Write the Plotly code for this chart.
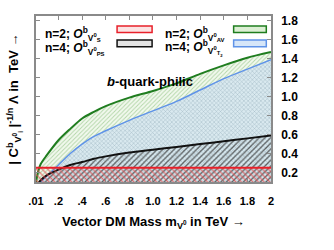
import plotly.graph_objects as go

# ---- data ----
mass_red = [0.01, 2.0]
lam_red = [0.25, 0.25]          # n=2; O_S

mass_black = [0.03, 0.05, 0.1, 0.2, 0.3, 0.4, 0.5, 0.6, 0.8, 1.0, 1.2, 1.4, 1.6, 1.8, 2.0]
lam_black = [0.09, 0.12, 0.17, 0.23, 0.28, 0.31, 0.345, 0.37, 0.41, 0.44, 0.47, 0.50, 0.53, 0.56, 0.59]

mass_green = [0.01, 0.03, 0.05, 0.1, 0.2, 0.3, 0.4, 0.5, 0.6, 0.8, 1.0, 1.2, 1.4, 1.6, 1.8, 2.0]
lam_green = [0.10, 0.22, 0.29, 0.38, 0.54, 0.66, 0.77, 0.84, 0.90, 0.99, 1.06, 1.14, 1.24, 1.33, 1.41, 1.47]

mass_blue = [0.05, 0.1, 0.2, 0.3, 0.4, 0.5, 0.6, 0.8, 1.0, 1.2, 1.4, 1.6, 1.8, 2.0]
lam_blue = [0.10, 0.16, 0.28, 0.40, 0.50, 0.58, 0.64, 0.75, 0.85, 0.95, 1.07, 1.19, 1.29, 1.39]

x_ticks = [0.01, 0.2, 0.4, 0.6, 0.8, 1.0, 1.2, 1.4, 1.6, 1.8, 2.0]
x_ticktext = [".01", ".2", ".4", ".6", ".8", "1.0", "1.2", "1.4", "1.6", "1.8", "2"]
y_ticks = [0.2, 0.4, 0.6, 0.8, 1.0, 1.2, 1.4, 1.6, 1.8]

FONT = "Liberation Sans, Arial, sans-serif"
GREEN = "#1f7d1f"
BLUE = "#5f93e8"
BLACK = "#111111"
RED = "#e8202a"
GRAY = "#8a8a8a"

fig = go.Figure()

fig.add_trace(go.Scatter(
    x=mass_green, y=lam_green, mode="lines", fill="tozeroy",
    line=dict(color=GREEN, width=2, shape="spline", smoothing=0.8),
    fillpattern=dict(shape="/", fgcolor="#b2d6a8", bgcolor="#f2f9ee",
                     size=3, solidity=0.3, fillmode="replace"),
    showlegend=False))

fig.add_trace(go.Scatter(
    x=mass_blue, y=lam_blue, mode="lines", fill="tozeroy",
    line=dict(color=BLUE, width=1.5, shape="spline", smoothing=0.8),
    fillpattern=dict(shape="x", fgcolor="#a2b9c6", bgcolor="#d9e9ef",
                     size=3, solidity=0.3, fillmode="replace"),
    showlegend=False))

fig.add_trace(go.Scatter(
    x=mass_black, y=lam_black, mode="lines", fill="tozeroy",
    line=dict(color=BLACK, width=2, shape="spline", smoothing=0.8),
    fillpattern=dict(shape="/", fgcolor="rgba(60,60,60,0.8)", bgcolor="rgba(0,0,0,0)",
                     size=4, solidity=0.3, fillmode="replace"),
    showlegend=False))

fig.add_trace(go.Scatter(
    x=mass_red, y=lam_red, mode="lines", fill="tozeroy",
    line=dict(color=RED, width=2),
    fillpattern=dict(shape="\\", fgcolor="rgba(230,80,80,0.75)", bgcolor="rgba(0,0,0,0)",
                     size=4, solidity=0.3, fillmode="replace"),
    showlegend=False))

# ---- legend (text + swatches) ----
legend_items = [
    ("n=2; <i>O</i><sup>b</sup><sub>V<sup>0</sup><sub>S</sub></sub>", 0.03, 0.905, 0.345, 0.494, "#fbe3e3", RED),
    ("n=4; <i>O</i><sup>b</sup><sub>V<sup>0</sup><sub>PS</sub></sub>", 0.03, 0.82, 0.345, 0.494, "#e4e4e4", BLACK),
    ("n=2; <i>O</i><sup>b</sup><sub>V<sup>0</sup><sub>AV</sub></sub>", 0.54, 0.905, 0.841, 0.98, "#dcefd4", GREEN),
    ("n=4; <i>O</i><sup>b</sup><sub>V<sup>0</sup><sub>T<sub>2</sub></sub></sub>", 0.54, 0.82, 0.841, 0.98, "#d6e6f8", BLUE),
]
for text, tx, ty, sx0, sx1, fc, lc in legend_items:
    fig.add_annotation(x=tx, y=ty - 0.014, xref="paper", yref="paper", text=text,
                       showarrow=False, xanchor="left", yanchor="middle",
                       font=dict(family=FONT, size=12, color="black", weight="bold"))
    fig.add_shape(type="rect", xref="paper", yref="paper",
                  x0=sx0, x1=sx1, y0=ty - 0.005, y1=ty + 0.035,
                  fillcolor=fc, line=dict(color=lc, width=1.5))

fig.add_annotation(x=0.295, y=0.605, xref="paper", yref="paper",
                   text="<i>b</i>-quark-philic", showarrow=False,
                   font=dict(family=FONT, size=13, color="black", weight="bold"))

fig.update_layout(
    width=334, height=250,
    margin=dict(l=36, r=63, t=16, b=68),
    paper_bgcolor="white", plot_bgcolor="white",
    font=dict(family=FONT, color="black"),
    xaxis=dict(
        range=[0.01, 2.0], tickvals=x_ticks, ticktext=x_ticktext,
        ticks="inside", ticklen=4, tickcolor=GRAY, showgrid=False, zeroline=False,
        showline=True, linecolor=GRAY, linewidth=1.5, mirror="ticks",
        tickfont=dict(family=FONT, size=11, weight="bold"),
        ticklabelstandoff=8, automargin=False,
    ),
    yaxis=dict(
        range=[0.1, 1.85], tickvals=y_ticks, tickformat=".1f", side="right",
        ticks="inside", ticklen=4, tickcolor=GRAY, showgrid=False, zeroline=False,
        showline=True, linecolor=GRAY, linewidth=1.5, mirror="ticks",
        tickfont=dict(family=FONT, size=12, weight="bold"),
        ticklabelstandoff=6, automargin=False,
    ),
)

fig.add_annotation(x=0.5, y=-0.245, xref="paper", yref="paper",
                   text="Vector DM Mass m<sub>V<sup>0</sup></sub> in TeV →",
                   showarrow=False, xanchor="center", yanchor="middle",
                   font=dict(family=FONT, size=13, color="black", weight="bold"))

fig.add_annotation(x=-0.095, y=0.5, xref="paper", yref="paper", textangle=-90,
                   text="| C<sup>b</sup><sub>V<sup>0</sup><sub>i</sub></sub> |<sup>-1/n</sup> Λ in  TeV →",
                   showarrow=False, xanchor="center", yanchor="middle",
                   font=dict(family=FONT, size=13, color="black", weight="bold"))

fig.write_html("out.html", config={"displayModeBar": False},
               post_script="document.body.style.margin='0';document.body.style.padding='0';")
